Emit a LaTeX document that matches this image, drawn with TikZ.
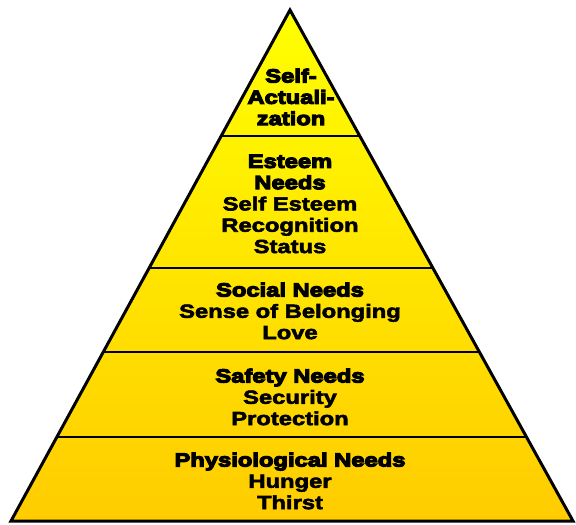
\documentclass[tikz,border=0pt]{standalone}
\usepackage{fontspec}
\usepackage{xcolor}
\usetikzlibrary{calc}
\newfontfamily\levelfont{Liberation Sans Bold}[FakeStretch=1.25, FakeBold=3]
\newfontfamily\levelhead{Liberation Sans Bold}[FakeStretch=1.25, FakeBold=6]
\definecolor{pyrtop}{RGB}{255,255,0}
\definecolor{pyrbase}{RGB}{255,204,0}
\tikzset{
	level/.style={align=center, inner sep=0pt, font=\levelfont\fontsize{19}{21.3}\selectfont},
}
\newcommand{\hd}[1]{{\levelhead #1}}

\begin{document}
\begin{tikzpicture}[x=1pt, y=-1pt]
	% Parameters
	\def\apexx{290}
	\def\apexy{10}
	\def\basey{521}
	\def\leftx{11}
	\def\rightx{573}
	
	\useasboundingbox (0,0) rectangle (576,525);
	
	%corners
	\coordinate (apex) at (\apexx,\apexy);
	\coordinate (bl) at (\leftx,\basey);
	\coordinate (br) at (\rightx,\basey);
	
	%body
	\shade[top color=pyrtop, bottom color=pyrbase] (apex) -- (bl) -- (br) -- cycle;
	
	%dividers
	\foreach \t in {0.2466, 0.505, 0.669, 0.836}
	\draw[line width=2pt] ($(apex)!\t!(bl)$) -- ($(apex)!\t!(br)$);
	
	%outline
	\draw[line width=3pt] (apex) -- (bl) -- (br) -- cycle;
	
	%levels
	\node[level] (selfact) at (291,97) {\hd{Self-}\\\hd{Actuali-}\\\hd{zation}};
	\node[level] (esteem) at (290,204) {\hd{Esteem}\\\hd{Needs}\\Self Esteem\\Recognition\\Status};
	\node[level] (social) at (290,311) {\hd{Social Needs}\\Sense of Belonging\\Love};
	\node[level] (safety) at (290,397) {\hd{Safety Needs}\\Security\\Protection};
	\node[level] (physio) at (290,481) {\hd{Physiological Needs}\\Hunger\\Thirst};
\end{tikzpicture}
\end{document}
